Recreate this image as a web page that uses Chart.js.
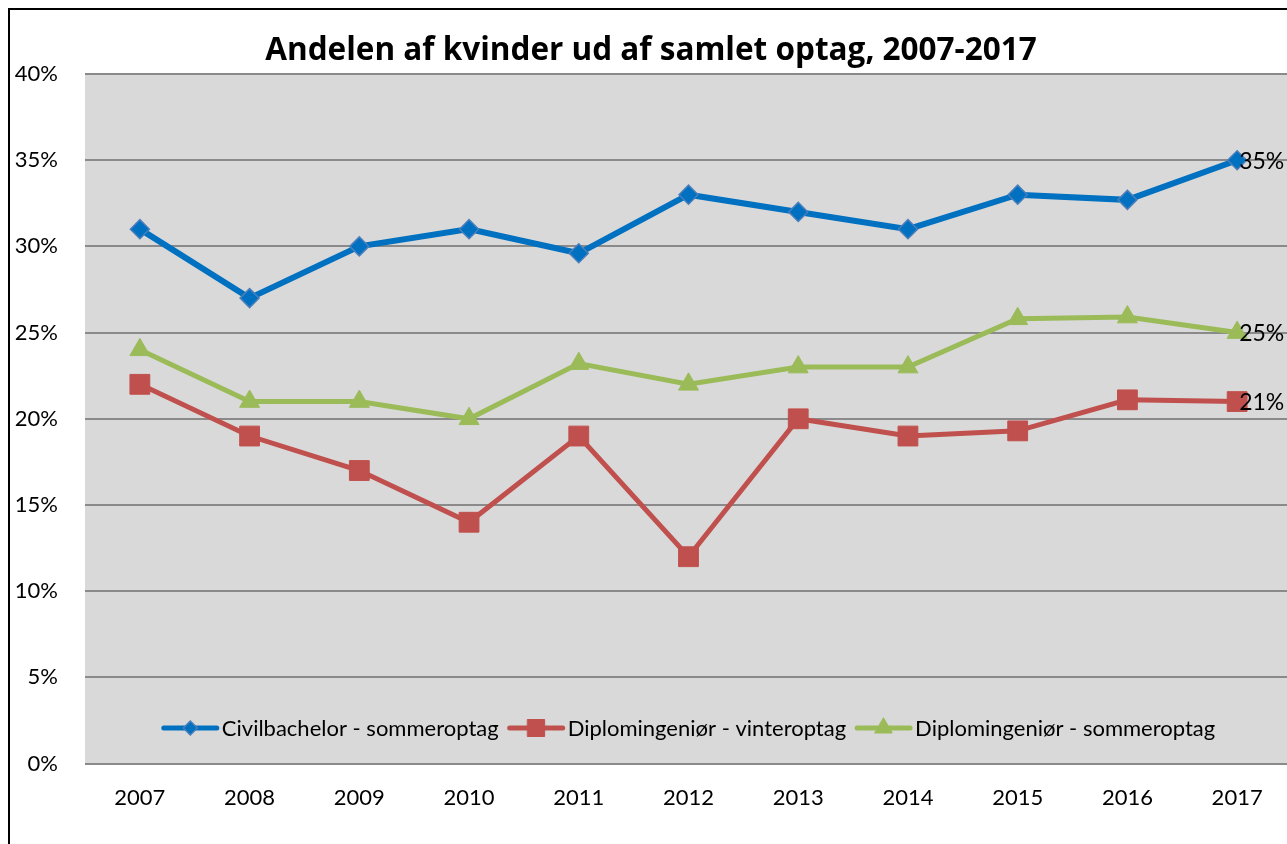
<!DOCTYPE html>
<html>
<head>
<meta charset="utf-8">
<script src="https://cdn.jsdelivr.net/npm/chart.js@4.4.1/dist/chart.umd.min.js"></script>
<style>
    html, body { margin: 0; padding: 0; background: #fff; overflow: hidden; }
    #frame { position: absolute; left: 8px; top: 8px; border-left: 2px solid #000; border-top: 2px solid #000; width: 1282px; height: 836px; }
    canvas { display: block; }
</style>
</head>
<body>
<div id="frame"><canvas id="myChart" width="1282" height="834"></canvas></div>
<script>
(function () {
    "use strict";

    const years = ['2007', '2008', '2009', '2010', '2011', '2012', '2013', '2014', '2015', '2016', '2017'];
    const seriesNames = ['Civilbachelor - sommeroptag', 'Diplomingeniør - vinteroptag', 'Diplomingeniør - sommeroptag'];
    const civilSommer = [31, 27, 30, 31, 29.6, 33, 32, 31, 33, 32.7, 35];
    const diplomVinter = [22, 19, 17, 14, 19, 12, 20, 19, 19.3, 21.1, 21];
    const diplomSommer = [24, 21, 21, 20, 23.2, 22, 23, 23, 25.8, 25.9, 25];
    const yMax = 40;
    const yStep = 5;
    const titleText = 'Andelen af kvinder ud af samlet optag, 2007-2017';

    const FONT = 'Lato';

    // grey plot area like the Excel original
    const plotBackground = {
        id: 'plotBackground',
        beforeDraw(chart) {
            const a = chart.chartArea;
            const ctx = chart.ctx;
            ctx.save();
            ctx.fillStyle = '#d9d9d9';
            ctx.fillRect(a.left, a.top, a.right - a.left, a.bottom - a.top);
            ctx.restore();
        }
    };

    // value labels on the last point of each line
    const endLabels = {
        id: 'endLabels',
        afterDatasetsDraw(chart) {
            const ctx = chart.ctx;
            ctx.save();
            ctx.font = '23px ' + FONT;
            ctx.fillStyle = '#000';
            ctx.textAlign = 'left';
            ctx.textBaseline = 'middle';
            chart.data.datasets.forEach((ds, i) => {
                const pts = chart.getDatasetMeta(i).data;
                const last = pts[pts.length - 1];
                const v = ds.data[ds.data.length - 1];
                ctx.fillText(Math.round(v) + '%', last.x + 2, last.y + 1);
            });
            ctx.restore();
        }
    };

    // legend drawn inside the plot area, near the bottom
    const insideLegend = {
        id: 'insideLegend',
        afterDraw(chart) {
            const ctx = chart.ctx;
            const a = chart.chartArea;
            const sample = 57, gap = 3, spacing = 9;
            ctx.save();
            ctx.font = '22px ' + FONT;
            const items = chart.data.datasets.map(ds => ({ ds: ds, w: ctx.measureText(ds.label).width }));
            let total = 0;
            items.forEach((it, i) => { total += sample + gap + it.w + (i > 0 ? spacing : 0); });
            let x = (a.left + a.right) / 2 - total / 2;
            const y = 718;
            items.forEach(it => {
                const ds = it.ds;
                ctx.strokeStyle = ds.borderColor;
                ctx.lineWidth = 5;
                ctx.lineCap = 'round';
                ctx.beginPath();
                ctx.moveTo(x + 2, y);
                ctx.lineTo(x + sample - 2, y);
                ctx.stroke();
                ctx.fillStyle = ds.pointBackgroundColor;
                ctx.strokeStyle = ds.pointBorderColor;
                ctx.lineWidth = ds.pointBorderWidth;
                Chart.helpers.drawPoint(ctx, {
                    pointStyle: ds.pointStyle,
                    radius: ds.legendRadius,
                    borderWidth: ds.pointBorderWidth,
                    rotation: 0
                }, x + sample / 2, y);
                ctx.fillStyle = '#000';
                ctx.textAlign = 'left';
                ctx.textBaseline = 'middle';
                ctx.fillText(ds.label, x + sample + gap, y + 1);
                x += sample + gap + it.w + spacing;
            });
            ctx.restore();
        }
    };

    function initChart() {
        const ctx = document.getElementById('myChart').getContext('2d');
        new Chart(ctx, {
            type: 'line',
            data: {
                labels: years,
                datasets: [
                    {
                        label: seriesNames[0],
                        data: civilSommer,
                        borderColor: '#0070c0',
                        borderWidth: 6,
                        pointStyle: 'rectRot',
                        pointRadius: 9.5,
                        legendRadius: 7,
                        pointBackgroundColor: '#0070c0',
                        pointBorderColor: '#4a7ebb',
                        pointBorderWidth: 1.5
                    },
                    {
                        label: seriesNames[1],
                        data: diplomVinter,
                        borderColor: '#c0504d',
                        borderWidth: 5,
                        pointStyle: 'rect',
                        pointRadius: 14,
                        legendRadius: 12,
                        pointBackgroundColor: '#c0504d',
                        pointBorderColor: '#c0504d',
                        pointBorderWidth: 1
                    },
                    {
                        label: seriesNames[2],
                        data: diplomSommer,
                        borderColor: '#9bbb59',
                        borderWidth: 5,
                        pointStyle: 'triangle',
                        pointRadius: 11.5,
                        legendRadius: 10,
                        pointBackgroundColor: '#9bbb59',
                        pointBorderColor: '#9bbb59',
                        pointBorderWidth: 1
                    }
                ]
            },
            options: {
                responsive: false,
                devicePixelRatio: 1,
                animation: false,
                layout: { autoPadding: false, padding: { left: 0, right: 0, top: 0, bottom: 12 } },
                plugins: {
                    legend: { display: false },
                    tooltip: { enabled: false },
                    title: {
                        display: true,
                        text: titleText,
                        color: '#000',
                        font: { family: 'Open Sans', size: 31.5, weight: 'bold' },
                        padding: { top: 22.1, bottom: 4.1 }
                    }
                },
                scales: {
                    x: {
                        offset: true,
                        afterFit(scale) { scale.paddingLeft = 0; scale.paddingRight = 0; },
                        grid: { display: false, drawTicks: false },
                        border: { display: false },
                        ticks: { color: '#000', font: { family: FONT, size: 22 }, padding: 21, maxRotation: 0 }
                    },
                    y: {
                        min: 0,
                        max: yMax,
                        afterFit(scale) { scale.width = 75; },
                        grid: { color: '#8a8a8a', lineWidth: 2, drawTicks: false },
                        border: { display: false },
                        ticks: {
                            stepSize: yStep,
                            color: '#000',
                            font: { family: FONT, size: 22 },
                            padding: 27,
                            callback: v => v + '%'
                        }
                    }
                }
            },
            plugins: [plotBackground, endLabels, insideLegend]
        });
    }

    document.addEventListener('DOMContentLoaded', initChart);
})();
</script>
</body>
</html>
